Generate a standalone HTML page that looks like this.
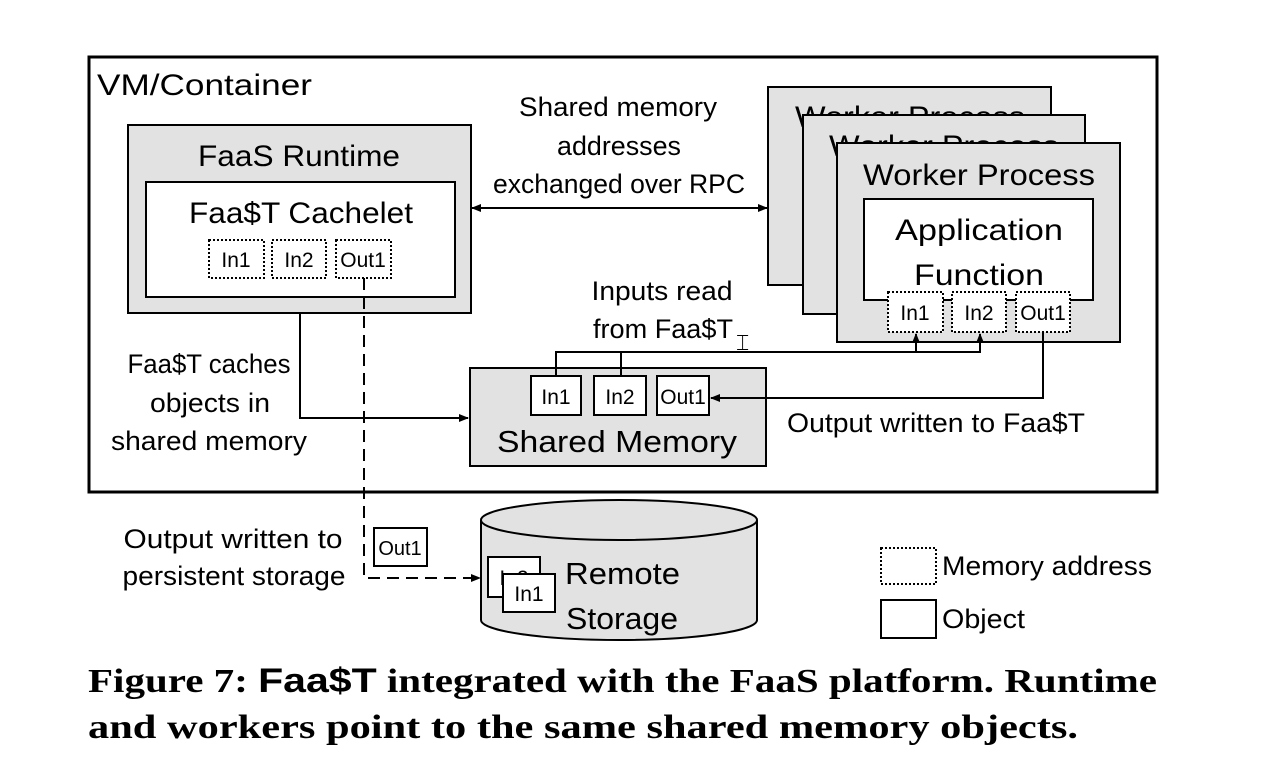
<!DOCTYPE html>
<html><head><meta charset="utf-8"><style>
html,body{margin:0;padding:0;background:#fff;}
svg{display:block;}
text{font-family:"Liberation Sans",sans-serif;fill:#000;}
.cap{font-family:"Liberation Serif",serif;font-weight:bold;font-size:34px;}
</style></head><body>
<svg width="1284" height="780" viewBox="0 0 1284 780" xmlns="http://www.w3.org/2000/svg">
<defs>
<marker id="ah" markerWidth="10" markerHeight="8" refX="9" refY="4" orient="auto" markerUnits="userSpaceOnUse">
<path d="M0,0 L10,4 L0,8 z" fill="#000"/></marker>
<marker id="ahs" markerWidth="10" markerHeight="8" refX="1" refY="4" orient="auto" markerUnits="userSpaceOnUse">
<path d="M10,0 L0,4 L10,8 z" fill="#000"/></marker>
</defs>
<rect x="89" y="57" width="1068" height="435" fill="none" stroke="#000" stroke-width="3"/>
<text x="97" y="95" font-size="30" textLength="215" lengthAdjust="spacingAndGlyphs">VM/Container</text>

<!-- FaaS runtime -->
<rect x="128" y="125" width="343" height="188" fill="#e2e2e2" stroke="#000" stroke-width="2"/>
<text x="299" y="166" font-size="30" text-anchor="middle" textLength="202" lengthAdjust="spacingAndGlyphs">FaaS Runtime</text>
<rect x="146" y="182" width="309" height="115" fill="#fff" stroke="#000" stroke-width="2"/>
<text x="301" y="223" font-size="30" text-anchor="middle" textLength="224" lengthAdjust="spacingAndGlyphs">Faa$T Cachelet</text>
<g fill="#fff" stroke="#000" stroke-width="2" stroke-dasharray="2,2">
<rect x="209" y="240" width="55" height="38"/><rect x="272" y="240" width="54" height="38"/><rect x="336" y="240" width="55" height="38"/>
</g>
<g font-size="21" text-anchor="middle"><text x="236" y="267">In1</text><text x="299" y="267">In2</text><text x="363" y="267">Out1</text></g>

<!-- RPC text -->
<g font-size="27" text-anchor="middle">
<text x="618" y="116" textLength="198" lengthAdjust="spacingAndGlyphs">Shared memory</text>
<text x="619" y="155" textLength="124" lengthAdjust="spacingAndGlyphs">addresses</text>
<text x="619" y="193" textLength="252" lengthAdjust="spacingAndGlyphs">exchanged over RPC</text>
</g>

<!-- Worker processes -->
<rect x="768" y="87" width="283" height="198" fill="#e2e2e2" stroke="#000" stroke-width="2"/>
<text x="910" y="127" font-size="30" text-anchor="middle" textLength="230" lengthAdjust="spacingAndGlyphs">Worker Process</text>
<rect x="803" y="115" width="282" height="199" fill="#e2e2e2" stroke="#000" stroke-width="2"/>
<text x="944" y="156" font-size="30" text-anchor="middle" textLength="230" lengthAdjust="spacingAndGlyphs">Worker Process</text>
<rect x="837" y="143" width="283" height="199" fill="#e2e2e2" stroke="#000" stroke-width="2"/>
<text x="979" y="185" font-size="30" text-anchor="middle" textLength="232" lengthAdjust="spacingAndGlyphs">Worker Process</text>
<rect x="864" y="199" width="229" height="101" fill="#fff" stroke="#000" stroke-width="2"/>
<text x="979" y="240" font-size="30" text-anchor="middle" textLength="168" lengthAdjust="spacingAndGlyphs">Application</text>
<text x="979" y="285" font-size="30" text-anchor="middle" textLength="130" lengthAdjust="spacingAndGlyphs">Function</text>
<g fill="#fff" stroke="#000" stroke-width="2" stroke-dasharray="2,2">
<rect x="888" y="292" width="55" height="40"/><rect x="952" y="292" width="54" height="40"/><rect x="1016" y="292" width="54" height="40"/>
</g>
<g font-size="21" text-anchor="middle"><text x="915" y="320">In1</text><text x="979" y="320">In2</text><text x="1043" y="320">Out1</text></g>

<!-- Shared memory -->
<rect x="470" y="368" width="296" height="98" fill="#e2e2e2" stroke="#000" stroke-width="2"/>
<g fill="#fff" stroke="#000" stroke-width="2">
<rect x="531" y="376" width="50" height="39"/><rect x="594" y="376" width="52" height="39"/><rect x="657" y="376" width="52" height="39"/>
</g>
<g font-size="21" text-anchor="middle"><text x="556" y="404">In1</text><text x="620" y="404">In2</text><text x="683" y="404">Out1</text></g>
<text x="617" y="452" font-size="31" text-anchor="middle" textLength="240" lengthAdjust="spacingAndGlyphs">Shared Memory</text>

<!-- connectors -->
<line x1="472" y1="208" x2="767" y2="208" stroke="#000" stroke-width="2" marker-start="url(#ahs)" marker-end="url(#ah)"/>
<g font-size="27" text-anchor="middle">
<text x="662" y="300" textLength="141" lengthAdjust="spacingAndGlyphs">Inputs read</text>
<text x="663" y="338" textLength="140" lengthAdjust="spacingAndGlyphs">from Faa$T</text></g>
<text x="736" y="350" font-size="22">⌶</text>
<polyline points="556,376 556,352 980,352 980,334" fill="none" stroke="#000" stroke-width="2" marker-end="url(#ah)"/>
<line x1="621" y1="376" x2="621" y2="352" stroke="#000" stroke-width="2"/>
<line x1="916" y1="352" x2="916" y2="334" stroke="#000" stroke-width="2" marker-end="url(#ah)"/>
<polyline points="1043,332 1043,398 711,398" fill="none" stroke="#000" stroke-width="2" marker-end="url(#ah)"/>
<text x="787" y="432" font-size="27" textLength="298" lengthAdjust="spacingAndGlyphs">Output written to Faa$T</text>

<polyline points="300,313 300,418 468,418" fill="none" stroke="#000" stroke-width="2" marker-end="url(#ah)"/>
<g font-size="27" text-anchor="middle">
<text x="209" y="373" textLength="163" lengthAdjust="spacingAndGlyphs">Faa$T caches</text>
<text x="210" y="412" textLength="120" lengthAdjust="spacingAndGlyphs">objects in</text>
<text x="209" y="450" textLength="196" lengthAdjust="spacingAndGlyphs">shared memory</text></g>

<!-- dashed to storage -->
<polyline points="364,278 364,578 480,578" fill="none" stroke="#000" stroke-width="2" stroke-dasharray="12,7" marker-end="url(#ah)"/>
<g font-size="27" text-anchor="middle">
<text x="233" y="548" textLength="219" lengthAdjust="spacingAndGlyphs">Output written to</text>
<text x="234" y="585" textLength="223" lengthAdjust="spacingAndGlyphs">persistent storage</text></g>
<rect x="374" y="528" width="53" height="38" fill="#fff" stroke="#000" stroke-width="2"/>
<text x="400" y="555" font-size="20" text-anchor="middle">Out1</text>

<!-- cylinder -->
<path d="M481,520 L481,620 A138,20 0 0 0 757,620 L757,520" fill="#e2e2e2" stroke="#000" stroke-width="2"/>
<ellipse cx="619" cy="520" rx="138" ry="20" fill="#e2e2e2" stroke="#000" stroke-width="2"/>
<rect x="488" y="557" width="52" height="40" fill="#fff" stroke="#000" stroke-width="2"/>
<text x="514" y="585" font-size="21" text-anchor="middle">In2</text>
<rect x="503" y="574" width="52" height="38" fill="#fff" stroke="#000" stroke-width="2"/>
<text x="529" y="601" font-size="21" text-anchor="middle">In1</text>
<text x="565" y="584" font-size="31" textLength="115" lengthAdjust="spacingAndGlyphs">Remote</text>
<text x="566" y="629" font-size="31" textLength="112" lengthAdjust="spacingAndGlyphs">Storage</text>

<!-- legend -->
<rect x="881" y="548" width="55" height="36" fill="#fff" stroke="#000" stroke-width="2" stroke-dasharray="2,2"/>
<text x="942" y="575" font-size="27" textLength="210" lengthAdjust="spacingAndGlyphs">Memory address</text>
<rect x="881" y="600" width="55" height="38" fill="#fff" stroke="#000" stroke-width="2"/>
<text x="942" y="628" font-size="27" textLength="83" lengthAdjust="spacingAndGlyphs">Object</text>

<!-- caption -->
<text class="cap" x="88" y="692" textLength="1069" lengthAdjust="spacingAndGlyphs">Figure 7: <tspan font-family="Liberation Sans, sans-serif">Faa$T</tspan> integrated with the FaaS platform. Runtime</text>
<text class="cap" x="88" y="738" textLength="990" lengthAdjust="spacingAndGlyphs">and workers point to the same shared memory objects.</text>
</svg>
</body></html>
